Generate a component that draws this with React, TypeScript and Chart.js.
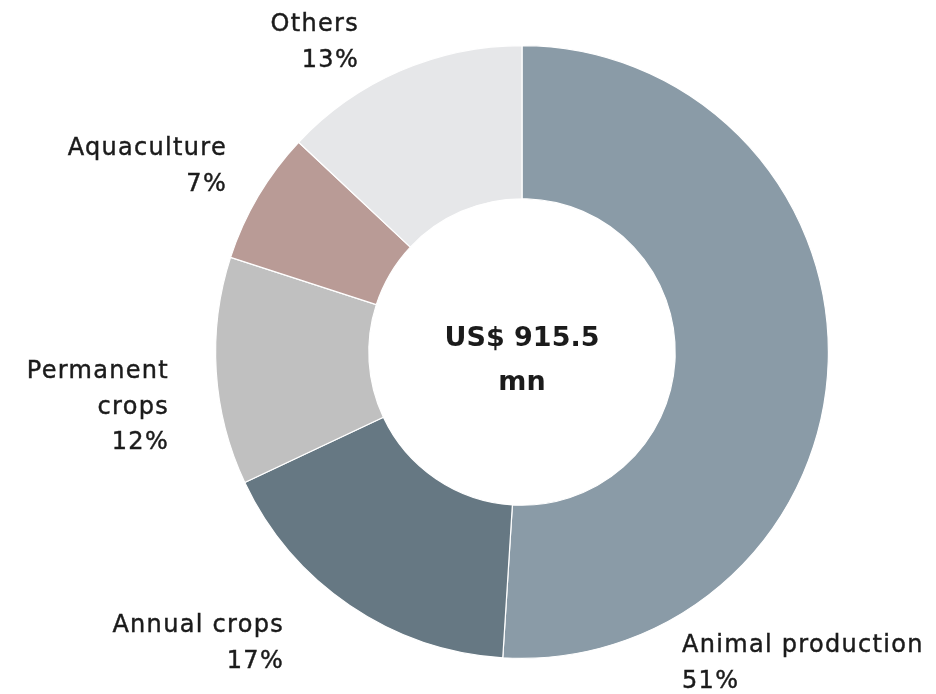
import React, { useEffect, useRef } from "react";
import { Chart, registerables } from "chart.js";

Chart.register(...registerables);

const categories = ["Animal production", "Annual crops", "Permanent crops", "Aquaculture", "Others"];
const shares = [51, 17, 12, 7, 13];
const sliceColors = ["#8a9ba7", "#667883", "#c0c0c0", "#b99b96", "#e6e7e9"];
const labelLines = [
  ["Animal production", "51%"],
  ["Annual crops", "17%"],
  ["Permanent", "crops", "12%"],
  ["Aquaculture", "7%"],
  ["Others", "13%"],
];
const centerLines = ["US$ 915.5", "mn"];

// label placement relative to the doughnut centre (in px), and alignment
const labelPlacement = [
  { dx: 160, dy: 300, align: "left" },
  { dx: -238, dy: 280, align: "right" },
  { dx: -353, dy: 26, align: "right" },
  { dx: -295, dy: -197, align: "right" },
  { dx: -163, dy: -321, align: "right" },
];

const FONT = "'DejaVu Sans', sans-serif";

const labelPlugin = {
  id: "outerLabels",
  afterDraw(chart: any) {
    const ctx = chart.ctx;
    const arc = chart.getDatasetMeta(0).data[0];
    if (!arc) return;
    const cx = arc.x;
    const cy = arc.y;
    ctx.save();
    ctx.fillStyle = "#1b1b1b";
    ctx.strokeStyle = "#1b1b1b";
    ctx.lineWidth = 0.45;
    ctx.font = `24px ${FONT}`;
    (ctx as any).letterSpacing = "1.3px";
    ctx.textBaseline = "alphabetic";
    labelLines.forEach((lines, i) => {
      const p = labelPlacement[i];
      ctx.textAlign = p.align;
      lines.forEach((t, j) => {
        ctx.fillText(t, cx + p.dx, cy + p.dy + j * 35.5);
        ctx.strokeText(t, cx + p.dx, cy + p.dy + j * 35.5);
      });
    });
    (ctx as any).letterSpacing = "0px";
    ctx.font = `bold 27px ${FONT}`;
    ctx.textAlign = "center";
    ctx.textBaseline = "middle";
    ctx.fillText(centerLines[0], cx, cy - 13);
    ctx.fillText(centerLines[1], cx, cy + 31);
    ctx.restore();
  },
};

export default function App() {
  const ref = useRef<HTMLCanvasElement | null>(null);
  useEffect(() => {
    if (!ref.current) return;
    const chart = new Chart(ref.current, {
      type: "doughnut",
      data: {
        labels: categories,
        datasets: [
          {
            data: shares,
            backgroundColor: sliceColors,
            borderColor: "#ffffff",
            borderWidth: 1.2,
          },
        ],
      },
      options: {
        responsive: false,
        animation: false,
        cutout: "50%",
        layout: { padding: { left: 215, right: 107, top: 45, bottom: 35 } },
        plugins: {
          legend: { display: false },
          tooltip: { enabled: false },
        },
      },
      plugins: [labelPlugin],
    });
    return () => chart.destroy();
  }, []);
  return (
    <div style={{ position: "absolute", left: 0, top: 0, width: 936, height: 694, background: "#fff" }}>
      <canvas ref={ref} width={936} height={694} style={{ width: 936, height: 694 }} />
    </div>
  );
}
